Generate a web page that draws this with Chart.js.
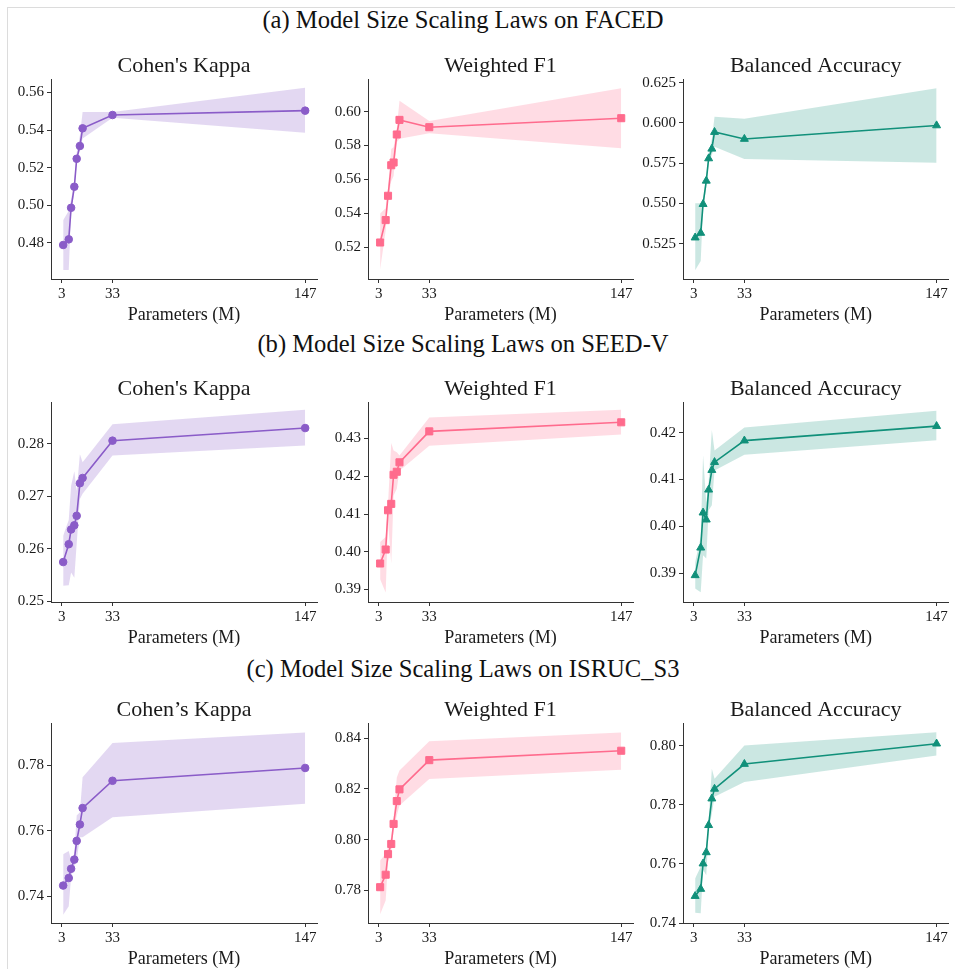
<!DOCTYPE html>
<html>
<head>
<meta charset="utf-8">
<script src="https://cdn.jsdelivr.net/npm/chart.js@4.4.1/dist/chart.umd.min.js"></script>
<style>
  html, body { margin: 0; padding: 0; background: #fff; }
  body { width: 955px; height: 969px; position: relative; overflow: hidden;
         font-family: 'Liberation Serif', 'Times New Roman', serif; color: #111; }
  .frame { position: absolute; left: 7px; top: 7px; width: 1000px; height: 1000px;
           border-top: 1px solid #dcdcdc; border-left: 1px solid #dcdcdc; }
  .suptitle { position: absolute; left: 0; width: 926px; text-align: center;
              font-size: 24.6px; line-height: 28px; }
  .panel { position: absolute; width: 319px; height: 275px; }
</style>
</head>
<body>
<div class="frame"></div>
<div class="suptitle" style="top:6px">(a) Model Size Scaling Laws on FACED</div>
<div class="suptitle" style="top:330px">(b) Model Size Scaling Laws on SEED-V</div>
<div class="suptitle" style="top:655px">(c) Model Size Scaling Laws on ISRUC_S3</div>

<div class="panel" style="left:3px;top:54px"><canvas id="c1"></canvas></div>
<div class="panel" style="left:320px;top:54px"><canvas id="c2"></canvas></div>
<div class="panel" style="left:635px;top:54px"><canvas id="c3"></canvas></div>
<div class="panel" style="left:3px;top:377px"><canvas id="c4"></canvas></div>
<div class="panel" style="left:320px;top:377px"><canvas id="c5"></canvas></div>
<div class="panel" style="left:635px;top:377px"><canvas id="c6"></canvas></div>
<div class="panel" style="left:3px;top:698px"><canvas id="c7"></canvas></div>
<div class="panel" style="left:320px;top:698px"><canvas id="c8"></canvas></div>
<div class="panel" style="left:635px;top:698px"><canvas id="c9"></canvas></div>

<script>
// model sizes (M params) and the ticks shown on the x axis
const paramsM = [3.8, 7.1, 8.5, 10.4, 11.8, 13.7, 15.3, 33, 147];
const xTicks = [3, 33, 147];

// FACED
const facedKappa   = [0.4788, 0.4818, 0.4986, 0.5098, 0.5247, 0.5315, 0.5409, 0.5480, 0.5503];
const facedKappaLo = [0.4655, 0.4655, 0.4965, 0.5070, 0.5220, 0.5295, 0.5355, 0.5465, 0.5385];
const facedKappaHi = [0.4920, 0.4970, 0.5030, 0.5125, 0.5280, 0.5370, 0.5496, 0.5496, 0.5625];
const facedF1      = [0.5229, 0.5361, 0.5504, 0.5684, 0.5700, 0.5865, 0.5951, 0.5908, 0.5961];
const facedF1Lo    = [0.5070, 0.5300, 0.5480, 0.5590, 0.5620, 0.5820, 0.5840, 0.5873, 0.5784];
const facedF1Hi    = [0.5400, 0.5430, 0.5550, 0.5780, 0.5790, 0.5900, 0.6063, 0.5945, 0.6137];
const facedBA      = [0.5287, 0.5316, 0.5495, 0.5640, 0.5779, 0.5839, 0.5943, 0.5900, 0.5984];
const facedBALo    = [0.5084, 0.5142, 0.5470, 0.5600, 0.5750, 0.5800, 0.5852, 0.5775, 0.5752];
const facedBAHi    = [0.5500, 0.5500, 0.5520, 0.5670, 0.5810, 0.5900, 0.6039, 0.6026, 0.6215];

// SEED-V
const seedKappa    = [0.2575, 0.2609, 0.2637, 0.2645, 0.2663, 0.2725, 0.2735, 0.2806, 0.2830];
const seedKappaLo  = [0.2530, 0.2531, 0.2555, 0.2545, 0.2610, 0.2695, 0.2705, 0.2778, 0.2797];
const seedKappaHi  = [0.2625, 0.2655, 0.2720, 0.2748, 0.2710, 0.2780, 0.2765, 0.2837, 0.2865];
const seedF1       = [0.3969, 0.4006, 0.4110, 0.4127, 0.4204, 0.4212, 0.4237, 0.4319, 0.4343];
const seedF1Lo     = [0.3927, 0.3892, 0.4079, 0.3969, 0.4149, 0.4167, 0.4215, 0.4281, 0.4311];
const seedF1Hi     = [0.4026, 0.4039, 0.4127, 0.4288, 0.4268, 0.4264, 0.4255, 0.4356, 0.4376];
const seedBA       = [0.3895, 0.3954, 0.4029, 0.4014, 0.4078, 0.4120, 0.4137, 0.4183, 0.4214];
const seedBALo     = [0.3867, 0.3859, 0.3938, 0.3931, 0.4034, 0.4045, 0.4119, 0.4153, 0.4184];
const seedBAHi     = [0.3923, 0.3977, 0.4152, 0.4051, 0.4094, 0.4206, 0.4162, 0.4211, 0.4247];

// ISRUC_S3
const isrucKappa   = [0.7433, 0.7456, 0.7484, 0.7512, 0.7569, 0.7619, 0.7669, 0.7752, 0.7791];
const isrucKappaLo = [0.7344, 0.7370, 0.7460, 0.7490, 0.7509, 0.7580, 0.7580, 0.7641, 0.7682];
const isrucKappaHi = [0.7528, 0.7538, 0.7510, 0.7530, 0.7646, 0.7656, 0.7763, 0.7867, 0.7899];
const isrucF1      = [0.7813, 0.7862, 0.7943, 0.7983, 0.8062, 0.8152, 0.8198, 0.8313, 0.8350];
const isrucF1Lo    = [0.7706, 0.7761, 0.7911, 0.7951, 0.8036, 0.8095, 0.8134, 0.8239, 0.8275];
const isrucF1Hi    = [0.7918, 0.7944, 0.7970, 0.8010, 0.8088, 0.8245, 0.8272, 0.8387, 0.8422];
const isrucBA      = [0.7491, 0.7515, 0.7601, 0.7639, 0.7731, 0.7821, 0.7854, 0.7938, 0.8007];
const isrucBALo    = [0.7435, 0.7433, 0.7580, 0.7562, 0.7714, 0.7770, 0.7827, 0.7877, 0.7967];
const isrucBAHi    = [0.7551, 0.7590, 0.7613, 0.7658, 0.7748, 0.7922, 0.7888, 0.8001, 0.8046];

// y tick labels per panel
const yTicksFacedKappa = ['0.48', '0.50', '0.52', '0.54', '0.56'];
const yTicksFacedF1    = ['0.52', '0.54', '0.56', '0.58', '0.60'];
const yTicksFacedBA    = ['0.525', '0.550', '0.575', '0.600', '0.625'];
const yTicksSeedKappa  = ['0.25', '0.26', '0.27', '0.28'];
const yTicksSeedF1     = ['0.39', '0.40', '0.41', '0.42', '0.43'];
const yTicksSeedBA     = ['0.39', '0.40', '0.41', '0.42'];
const yTicksIsrucKappa = ['0.74', '0.76', '0.78'];
const yTicksIsrucF1    = ['0.78', '0.80', '0.82', '0.84'];
const yTicksIsrucBA    = ['0.74', '0.76', '0.78', '0.80'];

const FONT = "'Liberation Serif', 'Times New Roman', serif";
const INK = '#1a1a1a';
const AXIS = '#333';

const STYLE = {
    kappa: { color: '#8a5cc8', band: 'rgba(138, 92, 200, 0.24)', marker: 'circle', radius: 3.8 },
    f1:    { color: '#ff6b8d', band: 'rgba(255, 107, 141, 0.24)', marker: 'rect', radius: 5 },
    ba:    { color: '#11907a', band: 'rgba(17, 144, 122, 0.22)', marker: 'triangle', radius: 4.6 }
};

const toPoints = (ys) => ys.map((y, i) => ({ x: paramsM[i], y: y }));

function drawPanel(canvasId, title, kind, mean, lo, hi, yTickLabels, yMin, yMax) {
    const st = STYLE[kind];
    const yTickValues = yTickLabels.map(Number);
    const decimals = yTickLabels[0].split('.')[1].length;

    new Chart(document.getElementById(canvasId), {
        type: 'line',
        data: {
            datasets: [
                { data: toPoints(lo), borderWidth: 0, pointRadius: 0, fill: false },
                { data: toPoints(hi), borderWidth: 0, pointRadius: 0, fill: '-1', backgroundColor: st.band },
                {
                    data: toPoints(mean),
                    borderColor: st.color,
                    borderWidth: 1.6,
                    pointStyle: st.marker,
                    pointRadius: st.radius,
                    pointBackgroundColor: st.color,
                    pointBorderColor: st.color,
                    pointBorderWidth: 1,
                    fill: false
                }
            ]
        },
        options: {
            responsive: true,
            maintainAspectRatio: false,
            animation: false,
            layout: { padding: { top: 0, right: 4, bottom: 0, left: 0 } },
            plugins: {
                legend: { display: false },
                tooltip: { enabled: false },
                title: {
                    display: true,
                    fullSize: false, // center over the plot area, not the canvas
                    text: title,
                    color: INK,
                    font: { family: FONT, size: 22, weight: 'normal', lineHeight: 1.15 },
                    padding: { top: 0, bottom: 0 }
                }
            },
            scales: {
                x: {
                    type: 'linear',
                    min: -3.4,
                    max: 154,
                    afterBuildTicks: (axis) => { axis.ticks = xTicks.map(v => ({ value: v })); },
                    afterFit: (axis) => { axis.height = 50; },
                    border: { display: true, color: AXIS, width: 1 },
                    grid: { display: true, drawOnChartArea: false, drawTicks: true, tickLength: 4, color: AXIS },
                    ticks: { color: INK, padding: 2, maxRotation: 0, autoSkip: false,
                             font: { family: FONT, size: 15 } },
                    title: { display: true, text: 'Parameters (M)', color: INK,
                             font: { family: FONT, size: 18, lineHeight: 1.2 },
                             padding: { top: 0, bottom: 3 } }
                },
                y: {
                    min: yMin,
                    max: yMax,
                    afterBuildTicks: (axis) => { axis.ticks = yTickValues.map(v => ({ value: v })); },
                    afterFit: (axis) => { axis.width = 48; },
                    border: { display: true, color: AXIS, width: 1 },
                    grid: { display: true, drawOnChartArea: false, drawTicks: true, tickLength: 4, color: AXIS },
                    ticks: { color: INK, padding: 3, font: { family: FONT, size: 15 },
                             callback: (v) => Number(v).toFixed(decimals) }
                }
            }
        }
    });
}

drawPanel('c1', "Cohen's Kappa",     'kappa', facedKappa, facedKappaLo, facedKappaHi, yTicksFacedKappa, 0.4607, 0.5670);
drawPanel('c2', 'Weighted F1',       'f1',    facedF1,    facedF1Lo,    facedF1Hi,    yTicksFacedF1,    0.5014, 0.6190);
drawPanel('c3', 'Balanced Accuracy', 'ba',    facedBA,    facedBALo,    facedBAHi,    yTicksFacedBA,    0.5030, 0.6271);
drawPanel('c4', "Cohen's Kappa",     'kappa', seedKappa,  seedKappaLo,  seedKappaHi,  yTicksSeedKappa,  0.2499, 0.2879);
drawPanel('c5', 'Weighted F1',       'f1',    seedF1,     seedF1Lo,     seedF1Hi,     yTicksSeedF1,     0.3867, 0.4396);
drawPanel('c6', 'Balanced Accuracy', 'ba',    seedBA,     seedBALo,     seedBAHi,     yTicksSeedBA,     0.3838, 0.4265);
drawPanel('c7', 'Cohen’s Kappa',     'kappa', isrucKappa, isrucKappaLo, isrucKappaHi, yTicksIsrucKappa, 0.7319, 0.7927);
drawPanel('c8', 'Weighted F1',       'f1',    isrucF1,    isrucF1Lo,    isrucF1Hi,    yTicksIsrucF1,    0.7672, 0.8458);
drawPanel('c9', 'Balanced Accuracy', 'ba',    isrucBA,    isrucBALo,    isrucBAHi,    yTicksIsrucBA,    0.7400, 0.8076);
</script>
</body>
</html>
